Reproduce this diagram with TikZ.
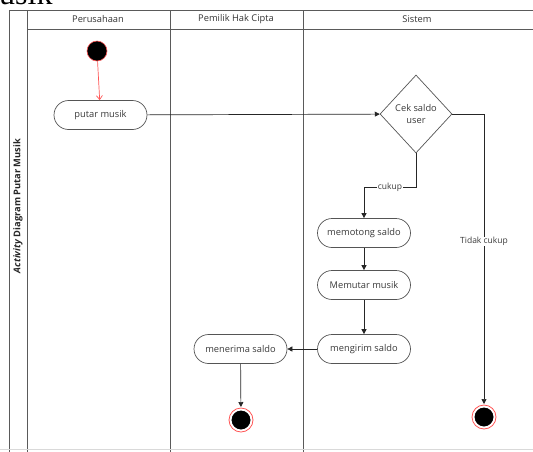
\documentclass[tikz,border=0pt]{standalone}
\usepackage{fontspec}
\setmainfont{Open Sans}
\newfontfamily\serifusik{Liberation Serif}
\usetikzlibrary{shapes.geometric,arrows.meta}
\definecolor{lanegray}{HTML}{5A5A5A}
\definecolor{boxgray}{HTML}{555555}
\definecolor{txtgray}{HTML}{3A3A3A}
\definecolor{redline}{HTML}{FF5555}
\tikzset{
  lane/.style={draw=lanegray, line width=0.9pt},
  actbox/.style={draw=boxgray, line width=0.7pt, rounded corners=14.5pt, minimum width=93pt, minimum height=29pt, inner sep=0pt, font=\fontsize{9.3}{11}\selectfont, text=txtgray, fill=white},
  decbox/.style={draw=boxgray, line width=0.7pt, diamond, minimum width=72pt, minimum height=78pt, inner sep=0pt, align=center, font=\fontsize{9.3}{12}\selectfont, text=txtgray, fill=white},
  flow/.style={draw=black!85, line width=0.7pt, -{Triangle[length=5pt,width=5pt]}},
  redflow/.style={draw=redline, line width=0.7pt, -{Straight Barb[length=4pt,width=6pt]}},
  startdot/.style={circle, fill=black, draw=redline, line width=0.6pt, minimum size=20pt, inner sep=0pt},
  enddot/.style={circle, fill=black, draw=white, line width=2pt, double=redline, double distance=0.8pt, minimum size=24pt, inner sep=0pt},
  hdr/.style={font=\fontsize{9.3}{11}\selectfont, text=black!80},
  elabel/.style={fill=white, inner sep=0.5pt, font=\fontsize{8.5}{10}\selectfont, text=txtgray},
}
\begin{document}
\begin{tikzpicture}[x=1pt,y=-1pt]
\useasboundingbox (0,0) rectangle (533,451);
\begin{scope}
\clip (0,0) rectangle (533,451);
% cut-off title text
\node[anchor=base west, inner sep=0pt, font=\serifusik\fontsize{32}{34}\selectfont] (title) at (-1,4.5) {usik};
% pool frame
\draw[lane] (9,460) -- (9,10) -- (545,10);
\draw[lane] (27,29) -- (545,29);
\draw[lane] (27,10) -- (27,460);
\draw[lane] (170,10) -- (170,460);
\draw[lane] (303,10) -- (303,460);
\draw[black!15, line width=0.8pt] (0,449.5) -- (533,449.5);
\end{scope}
% headers
\node[hdr] (h1) at (98,19.5) {Perusahaan};
\node[hdr] (h2) at (236,19.5) {Pemilik Hak Cipta};
\node[hdr] (h3) at (417,19.5) {Sistem};
\node[rotate=90, font=\bfseries\fontsize{9.3}{11}\selectfont, text=black!85] (vlabel) at (18,206) {\textit{Activity} Diagram Putar Musik};
% nodes
\node[startdot] (start) at (97,51) {};
\node[actbox] (putar) at (100.5,115) {putar musik};
\node[decbox] (cek) at (416,114) {Cek saldo\\user};
\node[actbox] (potong) at (364,233) {memotong saldo};
\node[actbox] (memutar) at (364,285) {Memutar musik};
\node[actbox] (kirim) at (364,349) {mengirim saldo};
\node[actbox] (terima) at (240.5,349) {menerima saldo};
\node[enddot] (end1) at (241,420) {};
\node[enddot] (end2) at (484,417) {};
\coordinate (c1) at (416,187);
\coordinate (c2) at (364,187);
\coordinate (c3) at (484,114);
% connectors
\draw[redflow] (start) -- (putar);
\draw[flow] (putar) -- (cek);
\draw[flow] (cek.south) -- (c1) -- node[elabel] (lcukup) {cukup} (c2) -- (potong.north);
\draw[flow] (cek.east) -- (c3) -- node[elabel, pos=0.44] (ltidak) {Tidak cukup} (end2.north);
\draw[flow] (potong) -- (memutar);
\draw[flow] (memutar) -- (kirim);
\draw[flow] (kirim) -- (terima);
\draw[flow] (terima) -- (end1);
\end{tikzpicture}
\end{document}
